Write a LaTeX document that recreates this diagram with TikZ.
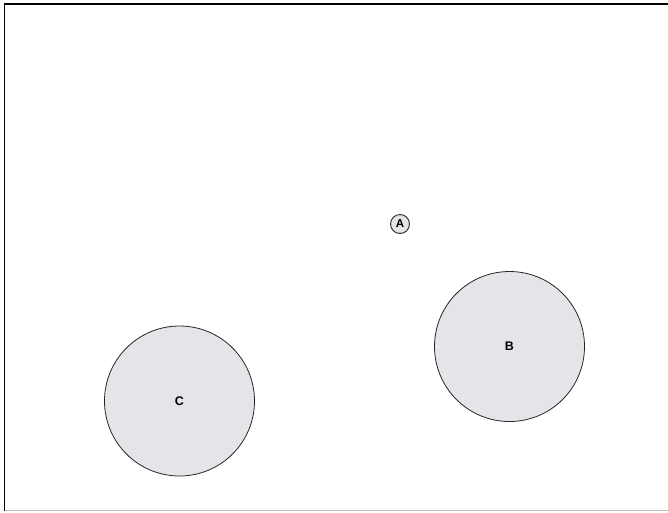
\documentclass[tikz,border=0pt]{standalone}
\usepackage{fontspec}
\setmainfont{Liberation Sans}
\definecolor{cfill}{RGB}{230,228,232}
\definecolor{frgray}{RGB}{190,190,190}
\begin{document}
\begin{tikzpicture}[x=1pt,y=-1pt,
  bigc/.style={circle,draw=black!85,line width=0.8pt,fill=cfill,minimum size=150pt,inner sep=0pt,font=\bfseries\fontsize{12.5}{14}\selectfont},
  smallc/.style={circle,draw=black!85,line width=0.9pt,fill=cfill,minimum size=19pt,inner sep=0pt,font=\bfseries\fontsize{11.5}{13}\selectfont}]
\useasboundingbox (0,0) rectangle (668,512);
\fill[white] (0,0) rectangle (668,512);
\coordinate (tl) at (4.5,4);
\coordinate (tr) at (668,4);
\coordinate (bl) at (4.5,510.5);
\coordinate (br) at (668,510.5);
\draw[line width=1.2pt] (bl) -- (tl) -- (tr);
\draw[frgray,line width=1pt] (bl) -- (br);
\node[smallc] (A) at (400,224) {A};
\node[bigc] (B) at (509.5,346.5) {B};
\node[bigc] (C) at (179.5,401) {C};
\end{tikzpicture}
\end{document}
